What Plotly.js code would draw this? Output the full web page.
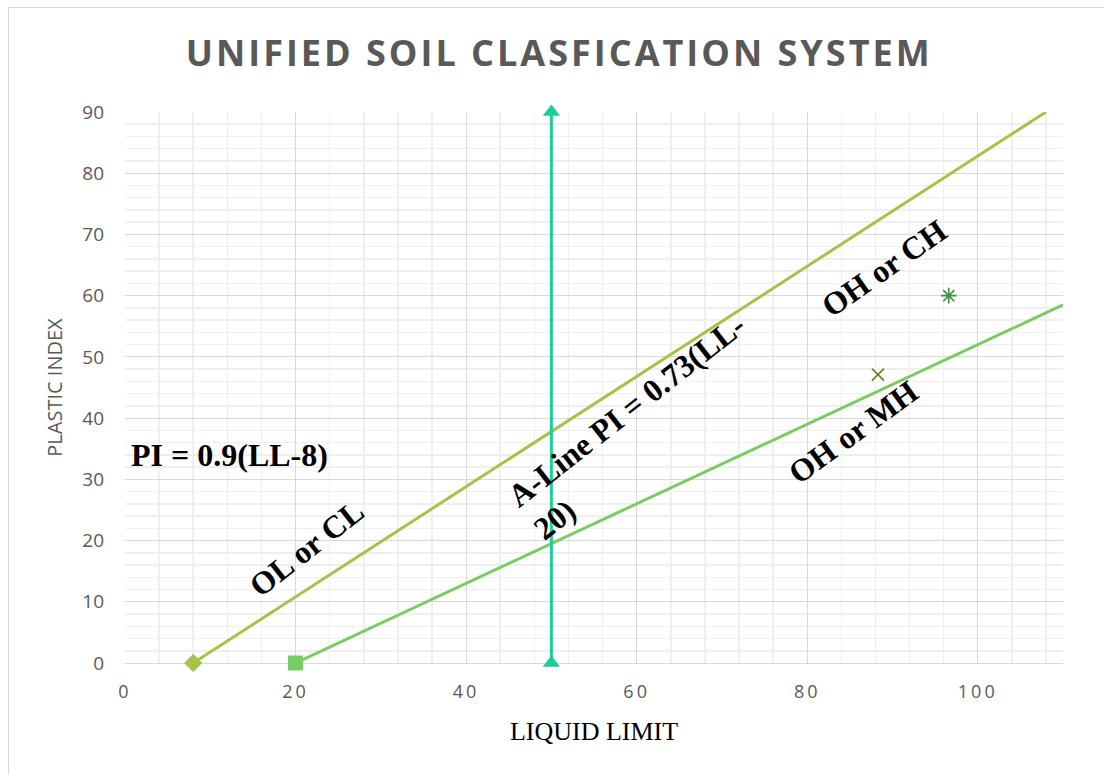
<!DOCTYPE html>
<html>
<head>
<meta charset="utf-8">
<script src="https://cdn.plot.ly/plotly-3.0.1.min.js"></script>
<style>
  html, body { margin: 0; padding: 0; background: #ffffff; }
  #wrap { position: relative; width: 1104px; height: 775px; }
  #chart { width: 1104px; height: 775px; }
  #frame { position: absolute; left: 8px; top: 7px; right: 0; bottom: 0;
           border-left: 1px solid #d9d9d9; border-top: 1px solid #d9d9d9; pointer-events: none; }
  .gtitle { letter-spacing: 3px; }
  .xtick text { letter-spacing: 3px; }
</style>
</head>
<body>
<div id="wrap">
  <div id="chart"></div>
  <div id="frame"></div>
</div>
<script>
// Plasticity chart lines (liquid limit vs plastic index)
const uLineLL = [8, 108];
const uLinePI = [0, 90];
const aLineLL = [20, 110];
const aLinePI = [0, 58.5];
const boundaryLL = [50, 50];
const boundaryPI = [0, 90];

// Soil samples
const sample1LL = [88.3];
const sample1PI = [47.1];
const sample2LL = [96.6];
const sample2PI = [60];

// Texts
const chartTitle = 'UNIFIED SOIL CLASFICATION SYSTEM';
const xTitle = 'LIQUID LIMIT';
const yTitle = 'PLASTIC INDEX';
const zoneLabels = [
  { text: 'PI = 0.9(LL-8)', x: 12.3, y: 34.0, angle: 0, align: 'left' },
  { text: 'OL or CL', x: 21.3, y: 18.8, angle: -38, align: 'center' },
  { text: 'A-Line PI = 0.73(LL-<br>20)', x: 60.3, y: 38.6, angle: -38, align: 'left' },
  { text: 'OH or CH', x: 89.0, y: 64.6, angle: -35, align: 'center' },
  { text: 'OH or MH', x: 85.4, y: 37.7, angle: -36, align: 'center' }
];

const colU = '#a5c24a';
const colA = '#78cc62';
const colB = '#1dce95';

const traces = [
  {
    x: uLineLL, y: uLinePI, type: 'scatter', mode: 'lines',
    line: { color: colU, width: 3 }, hoverinfo: 'x+y'
  },
  {
    x: aLineLL, y: aLinePI, type: 'scatter', mode: 'lines',
    line: { color: colA, width: 3 }, hoverinfo: 'x+y'
  },
  {
    x: boundaryLL, y: boundaryPI, type: 'scatter', mode: 'lines+markers',
    line: { color: colB, width: 3 },
    marker: { symbol: 'triangle-up', size: 15, color: colB, line: { width: 0 } },
    cliponaxis: false, hoverinfo: 'x+y'
  },
  // start points of the two lines
  {
    x: [uLineLL[0]], y: [uLinePI[0]], type: 'scatter', mode: 'markers',
    marker: { symbol: 'diamond', size: 14, color: colU, opacity: 1, line: { width: 0 } },
    cliponaxis: false
  },
  {
    x: [aLineLL[0]], y: [aLinePI[0]], type: 'scatter', mode: 'markers',
    marker: { symbol: 'square', size: 15, color: colA, opacity: 1, line: { width: 0 } },
    cliponaxis: false
  },
  {
    x: sample1LL, y: sample1PI, type: 'scatter', mode: 'markers',
    marker: { symbol: 'x-thin-open', size: 12, color: '#6b7a2d', line: { width: 1.6, color: '#6b7a2d' } },
    cliponaxis: false
  },
  {
    x: sample2LL, y: sample2PI, type: 'scatter', mode: 'markers',
    marker: { symbol: 'asterisk-open', size: 13, color: '#3e8e3c', line: { width: 1.6, color: '#3e8e3c' } },
    cliponaxis: false
  }
];

const annotations = zoneLabels.map(l => ({
  x: l.x, y: l.y, xref: 'x', yref: 'y',
  text: '<b>' + l.text + '</b>', showarrow: false,
  textangle: l.angle, align: l.align,
  font: { family: '"Liberation Serif", "Times New Roman", serif', size: 32, color: '#000000' }
}));

const layout = {
  width: 1104, height: 775,
  margin: { l: 125, r: 41, t: 112, b: 112 },
  paper_bgcolor: 'rgba(0,0,0,0)',
  plot_bgcolor: '#ffffff',
  showlegend: false,
  title: {
    text: '<b>' + chartTitle + '</b>',
    x: 0.5065, xanchor: 'center', y: 0.931, yanchor: 'middle',
    font: { family: '"Open Sans", sans-serif', size: 36, color: '#595959' }
  },
  xaxis: {
    range: [0, 110], dtick: 20, tick0: 0,
    showgrid: true, gridcolor: '#d9d9d9', gridwidth: 1,
    minor: { dtick: 4, showgrid: true, gridcolor: '#efefef', gridwidth: 1.5 },
    zeroline: false, showline: true, linecolor: '#d9d9d9', linewidth: 1,
    layer: 'below traces',
    ticks: '', ticklabelstandoff: 12,
    tickfont: { family: '"Open Sans", sans-serif', size: 18, color: '#595959' },
    title: { text: xTitle, standoff: 20,
      font: { family: '"Liberation Serif", "Times New Roman", serif', size: 26, color: '#000000' } },
    fixedrange: true
  },
  yaxis: {
    range: [0, 90], dtick: 10, tick0: 0,
    showgrid: true, gridcolor: '#d9d9d9', gridwidth: 1,
    minor: { dtick: 2, showgrid: true, gridcolor: '#efefef', gridwidth: 1.5 },
    zeroline: false, showline: false,
    layer: 'below traces',
    ticks: '', ticklabelstandoff: 20,
    tickfont: { family: '"Open Sans", sans-serif', size: 19, color: '#595959' },
    title: { text: yTitle, standoff: 14,
      font: { family: '"Open Sans", sans-serif', size: 20, color: '#595959' } },
    fixedrange: true
  },
  annotations: annotations
};

Plotly.newPlot('chart', traces, layout, { displayModeBar: false, staticPlot: true });
</script>
</body>
</html>
